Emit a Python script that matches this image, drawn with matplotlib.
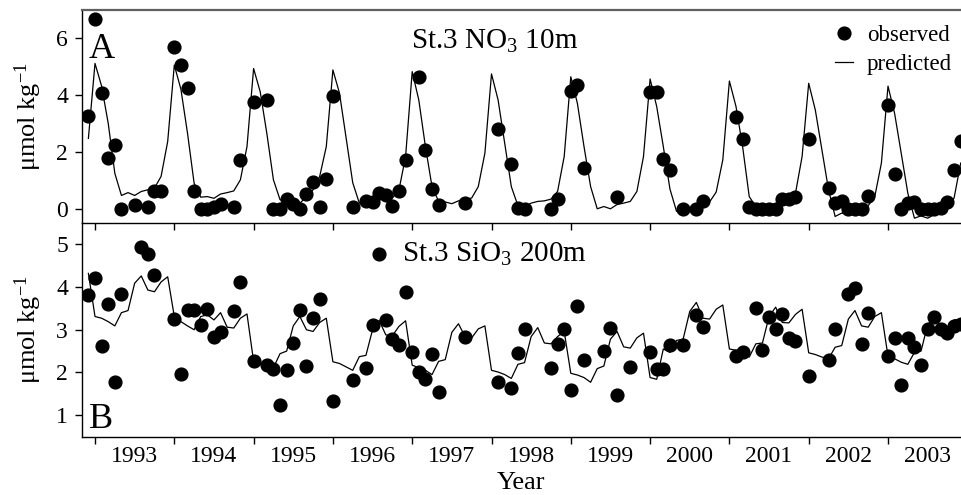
import matplotlib
matplotlib.use('Agg')
import matplotlib.pyplot as plt
from matplotlib.lines import Line2D
from matplotlib.ticker import FixedLocator, NullFormatter, FixedFormatter

plt.rcParams['font.family'] = ['Liberation Serif', 'DejaVu Serif']
plt.rcParams['mathtext.fontset'] = 'custom'
plt.rcParams['mathtext.rm'] = 'Liberation Serif'
plt.rcParams['mathtext.it'] = 'Liberation Serif:italic'

# ---------------- data (months counted from Jan 1993 = 0) ----------------
years = [1993, 1994, 1995, 1996, 1997, 1998, 1999, 2000, 2001, 2002, 2003]
year_labels = [str(y) for y in years]

pred_months = list(range(-1, 132))

pred_no3 = [2.48,
    5.12, 4.32, 3.01, 1.25, 0.47, 0.57, 0.47, 0.61, 0.67, 0.73, 1.14, 2.37,
    5.06, 4.21, 2.66, 0.90, 0.41, 0.43, 0.37, 0.52, 0.57, 0.63, 1.02, 2.19,
    4.94, 4.12, 2.66, 1.02, 0.32, 0.26, 0.34, 0.20, 0.41, 0.67, 1.14, 2.19,
    4.89, 4.07, 2.50, 0.92, 0.20, 0.32, 0.26, 0.43, 0.32, 0.38, 0.67, 1.84,
    4.83, 3.83, 2.19, 0.78, 0.26, 0.24, 0.18, 0.28, 0.32, 0.38, 0.78, 1.96,
    4.75, 3.83, 2.31, 0.78, 0.11, 0.08, 0.20, 0.26, 0.28, 0.34, 0.61, 1.84,
    4.65, 3.71, 2.19, 0.78, 0.00, 0.08, 0.00, 0.15, 0.20, 0.26, 0.61, 1.84,
    4.57, 3.60, 2.19, 0.70, -0.09, 0.00, -0.05, 0.06, 0.15, 0.24, 0.59, 1.72,
    4.50, 3.60, 2.19, 0.43, 0.08, 0.02, 0.02, 0.08, 0.20, 0.26, 0.55, 1.84,
    4.42, 3.48, 2.07, 0.67, -0.27, -0.15, -0.21, -0.09, -0.03, 0.11, 0.43, 1.61,
    4.32, 3.36, 1.96, 0.55, -0.33, -0.25, -0.33, -0.21, -0.15, 0.02, 0.38, 1.61]

pred_sio3 = [4.32,
    3.31, 3.27, 3.19, 3.09, 3.40, 3.45, 4.09, 4.26, 3.93, 3.89, 4.12, 4.24,
    3.31, 3.19, 3.09, 3.00, 3.31, 3.35, 3.23, 3.40, 3.06, 3.04, 3.27, 3.37,
    2.26, 2.19, 2.15, 2.11, 2.44, 2.50, 3.09, 3.31, 3.00, 2.96, 3.17, 3.27,
    2.25, 2.21, 2.13, 2.05, 2.37, 2.40, 3.00, 3.22, 2.88, 2.86, 3.08, 3.21,
    2.17, 2.11, 2.05, 1.95, 2.26, 2.30, 2.94, 3.14, 2.84, 2.81, 3.02, 3.09,
    2.05, 2.01, 1.95, 1.86, 2.19, 2.23, 2.84, 3.05, 2.69, 2.67, 2.84, 2.96,
    1.98, 1.94, 1.88, 1.77, 2.09, 2.15, 2.78, 2.96, 2.60, 2.57, 2.81, 2.92,
    1.88, 1.84, 2.55, 2.47, 2.75, 2.78, 3.43, 3.64, 3.27, 3.25, 3.48, 3.58,
    2.55, 2.52, 2.46, 2.36, 2.67, 2.69, 3.31, 3.53, 3.17, 3.16, 3.36, 3.48,
    2.46, 2.42, 2.36, 2.32, 2.59, 2.63, 3.25, 3.45, 3.09, 3.06, 3.31, 3.40,
    2.38, 2.32, 2.24, 2.19, 2.47, 2.50, 3.12, 3.29, 3.09, 3.05, 3.23, 3.25]

obs_no3_months = [-1, 0, 1, 2, 3, 4, 6, 8, 9, 10,
    12, 13, 14, 15, 16, 17, 18, 19, 21, 22,
    24, 26, 27, 28, 29, 30, 31, 32, 33, 34, 35,
    36, 39, 41, 42, 43, 44, 45, 46, 47,
    49, 50, 51, 52, 56,
    61, 63, 64, 65, 69, 70,
    72, 73, 74, 79,
    84, 85, 86, 87, 89, 91, 92,
    97, 98, 99, 100, 101, 102, 103, 104, 105, 106,
    108, 111, 112, 113, 114, 115, 116, 117,
    120, 121, 122, 123, 124, 125, 126, 127, 128, 129, 130, 131]
obs_no3 = [3.27, 6.70, 4.07, 1.78, 2.23, 0.00, 0.12, 0.06, 0.61, 0.63,
    5.68, 5.08, 4.25, 0.62, 0.00, 0.00, 0.08, 0.18, 0.05, 1.71,
    3.77, 3.84, 0.00, 0.00, 0.35, 0.17, 0.00, 0.53, 0.95, 0.07, 1.05,
    3.97, 0.05, 0.26, 0.24, 0.57, 0.49, 0.11, 0.63, 1.71,
    4.64, 2.06, 0.71, 0.15, 0.22,
    2.80, 1.58, 0.02, 0.00, 0.00, 0.34,
    4.15, 4.35, 1.42, 0.43,
    4.10, 4.10, 1.77, 1.35, 0.00, 0.00, 0.26,
    3.24, 2.45, 0.08, 0.00, 0.00, 0.00, 0.00, 0.34, 0.36, 0.43,
    2.45, 0.73, 0.22, 0.26, 0.00, 0.00, 0.00, 0.46,
    3.66, 1.24, 0.00, 0.20, 0.25, 0.00, 0.00, 0.00, 0.02, 0.24, 1.37, 2.39]

obs_sio3_months = [-1, 0, 1, 2, 3, 4, 7, 8, 9,
    12, 13, 14, 15, 16, 17, 18, 19, 21, 22,
    24, 26, 27, 28, 29, 30, 31, 32, 33, 34,
    36, 39, 41, 42, 43, 44, 45, 46, 47,
    48, 49, 50, 51, 52, 56,
    61, 63, 64, 65, 69, 70, 71,
    72, 73, 74, 77, 78, 79, 81,
    84, 85, 86, 87, 89, 91, 92,
    97, 98, 100, 101, 102, 103, 104, 105, 106,
    108, 111, 112, 114, 115, 116, 117,
    120, 121, 122, 123, 124, 125, 126, 127, 128, 129, 130, 131]
obs_sio3 = [3.81, 4.22, 2.61, 3.60, 1.78, 3.84, 4.94, 4.78, 4.28,
    3.26, 1.96, 3.47, 3.47, 3.11, 3.48, 2.84, 2.94, 3.44, 4.11,
    2.26, 2.17, 2.07, 1.23, 2.05, 2.68, 3.46, 2.16, 3.27, 3.71,
    1.33, 1.83, 2.11, 3.10, 4.78, 3.23, 2.79, 2.65, 3.88,
    2.48, 2.02, 1.84, 2.43, 1.55, 2.84,
    1.78, 1.64, 2.46, 3.01, 2.11, 2.67, 3.02,
    1.60, 3.56, 2.29, 2.51, 3.04, 1.47, 2.12,
    2.47, 2.09, 2.09, 2.65, 2.65, 3.35, 3.06,
    2.38, 2.48, 3.50, 2.53, 3.29, 3.02, 3.37, 2.80, 2.73,
    1.91, 2.30, 3.02, 3.83, 3.97, 2.67, 3.39,
    2.38, 2.81, 1.70, 2.81, 2.59, 2.17, 3.02, 3.29, 3.02, 2.92, 3.09, 3.14]


def to_year(months):
    return [1993 + m / 12.0 for m in months]


# ---------------- figure ----------------
W, H = 961, 495
fig = plt.figure(figsize=(W / 100, H / 100), dpi=100)
left, right = 82, 961
ax2 = fig.add_axes([left / W, 1 - 436.5 / H, (right - left) / W, 213.5 / H])
ax1 = fig.add_axes([left / W, 1 - 223 / H, (right - left) / W, 213 / H])
ax1.set_zorder(3)
ax1.patch.set_alpha(0)

x_lo = 1993 + (left - 95) / 79.3
x_hi = 1993 + (right - 95) / 79.3

ax1.plot(to_year(pred_months), pred_no3, color='black', lw=0.9, zorder=2)
ax1.plot(to_year(obs_no3_months), obs_no3, 'o', color='black', ms=9.2,
         mec='black', zorder=3)
ax2.plot(to_year(pred_months), pred_sio3, color='black', lw=0.9, zorder=2)
ax2.plot(to_year(obs_sio3_months), obs_sio3, 'o', color='black', ms=9.2,
         mec='black', zorder=3)

ax1.set_ylim(-0.5, 7)
ax2.set_ylim(0.5, 5.5)
ax1.set_yticks([0, 2, 4, 6])
ax2.set_yticks([1, 2, 3, 4, 5])

mids = [y + 0.5 for y in years]
for ax in (ax1, ax2):
    ax.set_xlim(x_lo, x_hi)
    ax.xaxis.set_major_locator(FixedLocator(years))
    ax.xaxis.set_major_formatter(NullFormatter())
    ax.xaxis.set_minor_locator(FixedLocator(mids))
    ax.tick_params(axis='x', which='major', direction='out', length=5,
                   width=1, color='black')
    ax.tick_params(axis='x', which='minor', length=0, labelsize=17, pad=7)
    ax.tick_params(axis='y', direction='out', length=5, width=1,
                   labelsize=17, pad=5)
    ax.spines['right'].set_visible(False)
    ax.spines['left'].set_linewidth(1.0)
    ax.spines['bottom'].set_linewidth(1.0)
    ax.spines['left'].set_color('black')
    ax.spines['bottom'].set_color('black')

ax1.xaxis.set_minor_formatter(NullFormatter())
ax2.xaxis.set_minor_formatter(FixedFormatter(year_labels))
ax1.spines['top'].set_color('#606060')
ax1.spines['top'].set_linewidth(1.6)
ax2.spines['top'].set_visible(False)

# panel letters and titles
ax1.text(7 / 879, (223 - 58) / 213, 'A', transform=ax1.transAxes,
         fontsize=26, ha='left', va='baseline')
ax2.text(7 / 879, (436.5 - 428) / 213.5, 'B', transform=ax2.transAxes,
         fontsize=26, ha='left', va='baseline')
ax1.text((495 - 82) / 879, (223 - 48.5) / 213, 'St.3 NO$_3$ 10m',
         transform=ax1.transAxes, fontsize=21, ha='center', va='baseline')
ax2.text((494 - 82) / 879, (436.5 - 262) / 213.5, 'St.3 SiO$_3$ 200m',
         transform=ax2.transAxes, fontsize=21, ha='center', va='baseline')

# legend
handles = [Line2D([], [], marker='o', color='black', ls='none', ms=9.2),
           Line2D([], [], color='black', lw=0.9)]
ax1.legend(handles, ['observed', 'predicted'], loc='upper right',
           bbox_to_anchor=(1.0, 0.975), frameon=False, fontsize=16.5,
           handlelength=0.8, handletextpad=0.6, labelspacing=0.36,
           borderpad=0.1, borderaxespad=0.3)

# axis labels
for yc in ((10 + 223) / 2, (223 + 436.5) / 2):
    fig.text(28 / W, 1 - yc / H, '\u03bcmol kg$^{-1}$', rotation=90,
             fontsize=19, ha='center', va='center')
fig.text((left + right) / 2 / W, 1 - 483 / H, 'Year', fontsize=19,
         ha='center', va='center')

fig.savefig('out.png', dpi=100)
